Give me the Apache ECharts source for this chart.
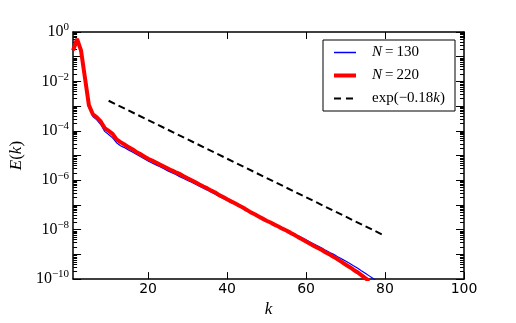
<!DOCTYPE html>
<html>
<head>
<meta charset="utf-8">
<script src="https://cdn.jsdelivr.net/npm/echarts@6/dist/echarts.min.js"></script>
<style>
html,body{margin:0;padding:0;background:#fff;}
#chart{width:516px;height:323px;}
</style>
</head>
<body>
<div id="chart"></div>
<script>
// wavenumbers
const kValues = [1,2,3,4,5,6,7,8,9,10,11,12,13,14,15,16,17,18,19,20,
  21,22,23,24,25,26,27,28,29,30,31,32,33,34,35,36,37,38,39,40,
  41,42,43,44,45,46,47,48,49,50,51,52,53,54,55,56,57,58,59,60,
  61,62,63,64,65,66,67,68,69,70,71,72,73,74,75,76,77,78];
// E(k) for N=130 (blue)
const eN130 = [0.18,0.52,0.17,0.0126,1.0e-3,3.8e-4,2.8e-4,1.8e-4,9.5e-5,7.1e-5,
  5.2e-5,3.3e-5,2.5e-5,2.1e-5,1.7e-5,1.38e-5,1.12e-5,9.1e-6,7.4e-6,6.0e-6,
  5.0e-6,4.2e-6,3.5e-6,2.9e-6,2.4e-6,2.0e-6,1.7e-6,1.4e-6,1.17e-6,9.8e-7,
  8.3e-7,6.9e-7,5.8e-7,4.8e-7,4.0e-7,3.3e-7,2.75e-7,2.2e-7,1.85e-7,1.55e-7,
  1.3e-7,1.07e-7,8.9e-8,7.4e-8,6.0e-8,4.9e-8,4.1e-8,3.4e-8,2.8e-8,2.4e-8,
  2.0e-8,1.66e-8,1.38e-8,1.17e-8,1.0e-8,8.3e-9,6.9e-9,5.6e-9,4.7e-9,3.9e-9,
  3.2e-9,2.6e-9,2.2e-9,1.8e-9,1.45e-9,1.2e-9,1.0e-9,8.1e-10,6.6e-10,5.4e-10,
  4.4e-10,3.5e-10,2.8e-10,2.2e-10,1.74e-10,1.35e-10,1.05e-10,8.0e-11];
// E(k) for N=220 (red)
const eN220 = [0.18,0.52,0.18,0.014,1.1e-3,4.7e-4,3.5e-4,2.4e-4,1.3e-4,1.0e-4,
  7.6e-5,4.5e-5,3.5e-5,2.8e-5,2.2e-5,1.8e-5,1.4e-5,1.15e-5,9.1e-6,7.4e-6,
  6.3e-6,5.2e-6,4.3e-6,3.6e-6,3.0e-6,2.5e-6,2.1e-6,1.8e-6,1.45e-6,1.2e-6,
  1.0e-6,8.3e-7,6.8e-7,5.6e-7,4.7e-7,3.8e-7,3.2e-7,2.5e-7,2.1e-7,1.7e-7,
  1.4e-7,1.17e-7,9.5e-8,7.9e-8,6.3e-8,5.0e-8,4.2e-8,3.4e-8,2.8e-8,2.3e-8,
  1.95e-8,1.6e-8,1.35e-8,1.1e-8,9.3e-9,7.6e-9,6.2e-9,5.0e-9,4.1e-9,3.3e-9,
  2.7e-9,2.2e-9,1.8e-9,1.5e-9,1.2e-9,9.8e-10,7.9e-10,6.3e-10,5.0e-10,3.9e-10,
  3.1e-10,2.4e-10,1.9e-10,1.45e-10,1.1e-10,8.3e-11];
// reference line exp(-0.18k), endpoints
const refK = [10, 80];
const refE = [1.65e-3, 5.6e-9];

const xTickValues = [20, 40, 60, 80, 100];
const yMajorValues = [1e-10,1e-9,1e-8,1e-7,1e-6,1e-5,1e-4,1e-3,1e-2,1e-1,1];
const yLabelValues = [1e-10,1e-8,1e-6,1e-4,1e-2,1];
const minorSubs = [2,3,4,5,6,7,8,9];
const decadeExps = [-10,-9,-8,-7,-6,-5,-4,-3,-2,-1];

const yMinorValues = [];
decadeExps.forEach(function(d){ minorSubs.forEach(function(s){ yMinorValues.push(s*Math.pow(10,d)); }); });

const SERIF = 'Liberation Serif';
const SANS = 'DejaVu Sans';

function pair(xs, ys){ return ys.map(function(v,i){ return [xs[i], v]; }); }

function yLabelFmt(v){
  const e = Math.round(Math.log10(v));
  const s = e < 0 ? '\u2212' + (-e) : String(e);
  return '{b|10}{s|' + s + '}';
}

const chart = echarts.init(document.getElementById('chart'), null, {renderer:'canvas'});

const axisLineStyle = {color:'#000', width:1.5};
function yAx(pos, opts){
  return Object.assign({
    type:'log', logBase:10, min:1e-10, max:1, position:pos,
    splitLine:{show:false},
    axisLine:{show:true, onZero:false, lineStyle:axisLineStyle},
    axisTick:{show:true, inside:true, length:8, lineStyle:{color:'#000', width:1}, customValues:yMajorValues},
    axisLabel:{show:false}
  }, opts || {});
}

const option = {
  animation:false,
  backgroundColor:'#fff',
  grid:{left:64, right:52, top:32, bottom:32, containLabel:false},
  xAxis:[
    {type:'value', min:1, max:100, position:'bottom',
     splitLine:{show:false},
     axisLine:{onZero:false, lineStyle:axisLineStyle},
     axisTick:{inside:true, length:7, lineStyle:{color:'#000', width:1}, customValues:xTickValues},
     axisLabel:{customValues:xTickValues, margin:3, color:'#000', fontFamily:SANS, fontSize:14},
     name:'k', nameLocation:'middle', nameGap:14,
     nameTextStyle:{fontFamily:SERIF, fontStyle:'italic', fontSize:17, color:'#000'}
    },
    {type:'value', min:1, max:100, position:'top',
     splitLine:{show:false},
     axisLine:{onZero:false, lineStyle:axisLineStyle},
     axisTick:{inside:true, length:7, lineStyle:{color:'#000', width:1}, customValues:xTickValues},
     axisLabel:{show:false}
    }
  ],
  yAxis:[
    yAx('left', {
      axisLabel:{show:true, customValues:yLabelValues, margin:4, formatter:yLabelFmt,
        rich:{
          b:{fontFamily:SERIF, fontSize:16, color:'#000'},
          s:{fontFamily:SERIF, fontSize:11, color:'#000', verticalAlign:'bottom', padding:[0,0,9,0]}
        }},
      name:'{i|E}{p|(}{i|k}{p|)}', nameLocation:'middle', nameGap:40, nameRotate:90,
      nameTextStyle:{rich:{
        i:{fontFamily:SERIF, fontStyle:'italic', fontSize:17, color:'#000'},
        p:{fontFamily:SERIF, fontSize:17, color:'#000'}
      }}
    }),
    yAx('right'),
    yAx('left', {axisLine:{show:false}, axisTick:{show:true, inside:true, length:4, lineStyle:{color:'#000', width:1}, customValues:yMinorValues}}),
    yAx('right', {axisLine:{show:false}, axisTick:{show:true, inside:true, length:4, lineStyle:{color:'#000', width:1}, customValues:yMinorValues}})
  ],
  legend:{
    orient:'vertical', left:323, top:40,
    backgroundColor:'#fff', borderColor:'#000', borderWidth:1, borderRadius:0,
    padding:[5,10,5,9], itemGap:8, itemWidth:22, itemHeight:14,
    itemStyle:{opacity:0},
    textStyle:{color:'#000', fontFamily:SERIF, fontSize:15, padding:[0,0,0,11],
      rich:{
        i:{fontFamily:SERIF, fontStyle:'italic', fontSize:15, color:'#000'},
        t:{fontFamily:SERIF, fontSize:15, color:'#000'}
      }},
    formatter:function(name){
      if (name === 'N=130') return '{i|N}{t|\u2009=\u2009130}';
      if (name === 'N=220') return '{i|N}{t|\u2009=\u2009220}';
      return '{t|exp(\u22120.18}{i|k}{t|)}';
    },
    data:[
      {name:'N=130', lineStyle:{width:1.5}},
      {name:'N=220', lineStyle:{width:4}},
      {name:'exp', lineStyle:{width:2, type:[7,5]}}
    ]
  },
  series:[
    {name:'N=130', type:'line', data:pair(kValues, eN130), symbol:'none', clip:true,
     lineStyle:{color:'#0000ff', width:1.2}, itemStyle:{color:'#0000ff'}, z:2},
    {name:'N=220', type:'line', data:pair(kValues, eN220), symbol:'none', clip:true,
     lineStyle:{color:'#ff0000', width:4}, itemStyle:{color:'#ff0000'}, z:3},
    {name:'exp', type:'line', data:pair(refK, refE), symbol:'none', clip:true,
     lineStyle:{color:'#000', width:2, type:[7,4]}, itemStyle:{color:'#000'}, z:4}
  ]
};
chart.setOption(option);
</script>
</body>
</html>
